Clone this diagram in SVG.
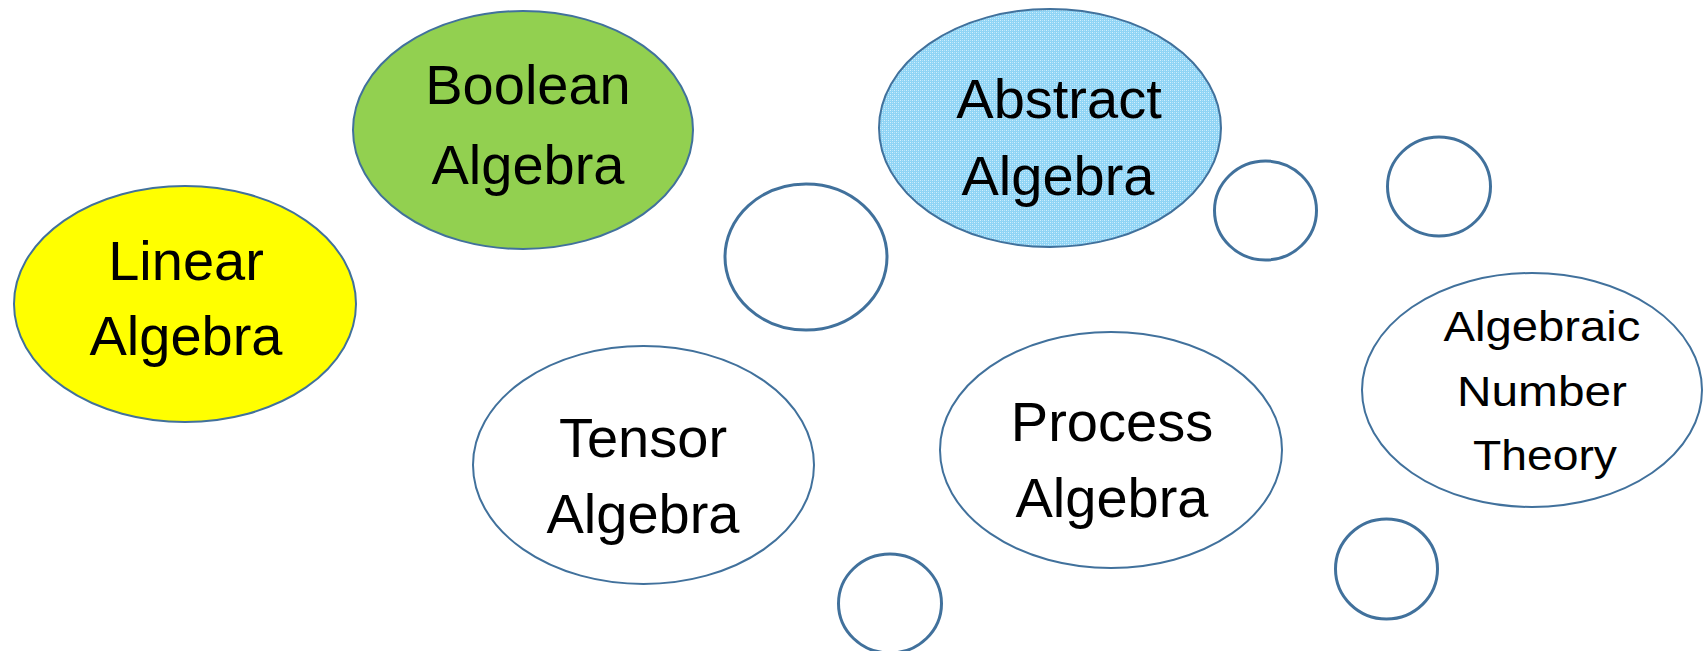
<svg xmlns="http://www.w3.org/2000/svg" width="1706" height="651" viewBox="0 0 1706 651">
  <defs>
    <!-- fine dotted fill for the abstract algebra bubble -->
    <pattern id="dots" width="4" height="4" patternUnits="userSpaceOnUse">
      <rect width="4" height="4" fill="#8fd4f5"/>
      <rect x="0" y="0" width="1" height="1" fill="#d2effc"/>
      <rect x="2" y="2" width="1" height="1" fill="#d2effc"/>
      <rect x="2" y="0" width="1" height="1" fill="#b4e3f9"/>
      <rect x="0" y="2" width="1" height="1" fill="#b4e3f9"/>
    </pattern>
    <style>
      .big { stroke: #41719c; stroke-width: 2; }
      .bubble { fill: #ffffff; stroke: #41719c; stroke-width: 3; }
      .label { font-family: "Liberation Sans", Arial, sans-serif; font-size: 56px; fill: #000000; text-anchor: middle; }
      .small { font-size: 43px; }
    </style>
  </defs>

  <rect width="1706" height="651" fill="#ffffff"/>

  <!-- decorative empty bubbles -->
  <g id="bubbles">
    <ellipse class="bubble" cx="806" cy="257" rx="81" ry="73"/>
    <ellipse class="bubble" cx="1265.5" cy="210.5" rx="51" ry="49.5"/>
    <ellipse class="bubble" cx="1439" cy="186.5" rx="51.5" ry="49.5"/>
    <ellipse class="bubble" cx="890" cy="603.5" rx="51.5" ry="49.5"/>
    <ellipse class="bubble" cx="1386.5" cy="569" rx="51" ry="50"/>
  </g>

  <g id="linear-algebra">
    <ellipse class="big" cx="185" cy="304" rx="171" ry="118" fill="#ffff00"/>
    <text class="label" x="186" y="280">Linear</text>
    <text class="label" x="186" y="355">Algebra</text>
  </g>

  <g id="boolean-algebra">
    <ellipse class="big" cx="523" cy="130" rx="170" ry="119" fill="#92d050"/>
    <text class="label" x="528" y="104">Boolean</text>
    <text class="label" x="528" y="184">Algebra</text>
  </g>

  <g id="abstract-algebra">
    <ellipse class="big" cx="1050" cy="128" rx="171" ry="119" fill="url(#dots)"/>
    <text class="label" x="1059" y="118">Abstract</text>
    <text class="label" x="1058" y="195">Algebra</text>
  </g>

  <g id="tensor-algebra">
    <ellipse class="big" cx="643.5" cy="465" rx="170.5" ry="119" fill="#ffffff"/>
    <text class="label" x="643" y="457">Tensor</text>
    <text class="label" x="643" y="533">Algebra</text>
  </g>

  <g id="process-algebra">
    <ellipse class="big" cx="1111" cy="450" rx="171" ry="118" fill="#ffffff"/>
    <text class="label" x="1112" y="441">Process</text>
    <text class="label" x="1112" y="517">Algebra</text>
  </g>

  <g id="algebraic-number-theory">
    <ellipse class="big" cx="1532" cy="390" rx="170" ry="117" fill="#ffffff"/>
    <text class="label small" x="1542" y="341" textLength="197" lengthAdjust="spacingAndGlyphs">Algebraic</text>
    <text class="label small" x="1542" y="406" textLength="170" lengthAdjust="spacingAndGlyphs">Number</text>
    <text class="label small" x="1545" y="470" textLength="144" lengthAdjust="spacingAndGlyphs">Theory</text>
  </g>

  <!-- no connectors in this figure -->
  <g id="connectors"/>
</svg>
